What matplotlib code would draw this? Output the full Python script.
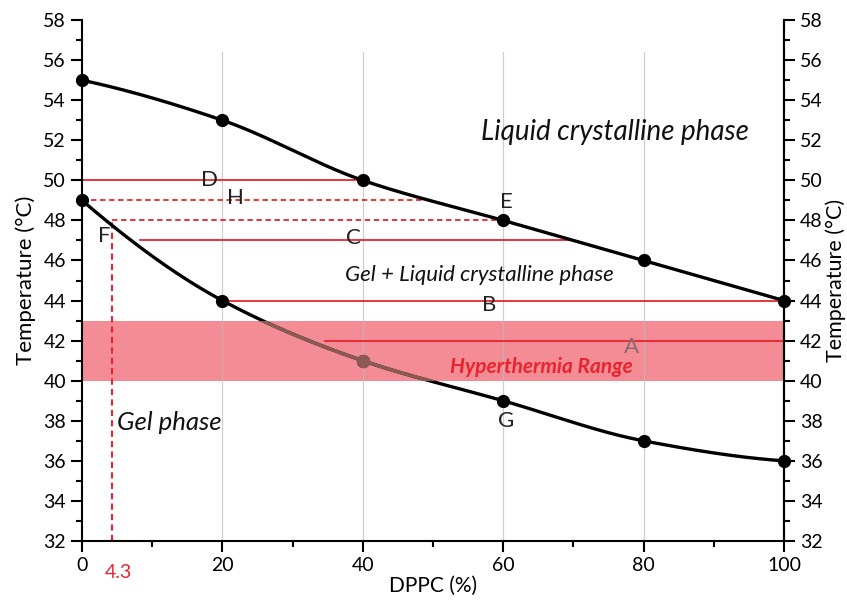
import numpy as np
import matplotlib
matplotlib.use("Agg")
import matplotlib.pyplot as plt
from matplotlib.ticker import MultipleLocator
from matplotlib.patches import Rectangle

plt.rcParams['font.family'] = ['Lato', 'DejaVu Sans']

# DPPC content (%) and transition temperatures (°C)
dppc = [0, 20, 40, 60, 80, 100]
liquidus = [55, 53, 50, 48, 46, 44]
solidus = [49, 44, 41, 39, 37, 36]

# tie lines: (temperature, x_start, x_end, dashed)
tie_temps = [50, 49, 48, 47, 44, 42]
tie_x0 = [0, 0, 4.3, 8.3, 20, 34.6]
tie_x1 = [40, 50, 60, 69.2, 100, 100]
tie_dashed = [False, True, True, False, False, False]

point_labels = ["D", "H", "E", "F", "C", "B", "G"]
label_x = [18.2, 21.8, 60.5, 3.2, 38.7, 58.0, 60.4]
label_y = [50.0, 49.1, 48.9, 47.2, 47.1, 43.8, 38.0]

hyper_low, hyper_high = 40, 43
f_point = 4.3


def pchip(x, y, xs):
    """Monotone piecewise cubic Hermite curve through the points."""
    x = np.asarray(x, float)
    y = np.asarray(y, float)
    h = np.diff(x)
    delta = np.diff(y) / h
    n = len(x)
    d = np.zeros(n)
    for i in range(1, n - 1):
        if delta[i - 1] * delta[i] > 0:
            w1 = 2 * h[i] + h[i - 1]
            w2 = h[i] + 2 * h[i - 1]
            d[i] = (w1 + w2) / (w1 / delta[i - 1] + w2 / delta[i])
    d[0] = ((2 * h[0] + h[1]) * delta[0] - h[0] * delta[1]) / (h[0] + h[1])
    d[-1] = ((2 * h[-1] + h[-2]) * delta[-1] - h[-1] * delta[-2]) / (h[-1] + h[-2])
    out = np.empty_like(xs)
    for k, xv in enumerate(xs):
        i = min(max(np.searchsorted(x, xv) - 1, 0), n - 2)
        t = (xv - x[i]) / h[i]
        h00 = 2 * t**3 - 3 * t**2 + 1
        h10 = t**3 - 2 * t**2 + t
        h01 = -2 * t**3 + 3 * t**2
        h11 = t**3 - t**2
        out[k] = h00 * y[i] + h10 * h[i] * d[i] + h01 * y[i + 1] + h11 * h[i] * d[i + 1]
    return out


fig = plt.figure(figsize=(8.47, 6.0), dpi=100)
ax = fig.add_axes([0.0968, 0.0983, 0.8288, 0.8683])

ax.set_xlim(0, 100)
ax.set_ylim(32, 58)

red = "#e8242f"
band_col = "#f48c96"
brown = "#8c5a52"

# hyperthermia band
ax.axhspan(hyper_low, hyper_high, color=band_col, lw=0, zorder=1)

# vertical guide lines
for gx in [20, 40, 60, 80]:
    ax.plot([gx, gx], [32, 56.4], color="#bbbbbb", lw=0.9, alpha=0.7, zorder=1.5)

for t, x0, x1, dsh in zip(tie_temps, tie_x0, tie_x1, tie_dashed):
    ax.plot([x0, x1], [t, t], color=red, lw=1.3,
            ls=(0, (3, 2)) if dsh else "-", zorder=2)
ax.plot([f_point, f_point], [32, 48], color=red, lw=1.5,
        ls=(0, (3, 2)), zorder=2)

xs = np.linspace(0, 100, 400)
ax.plot(xs, pchip(dppc, liquidus, xs), color="black", lw=2.4, zorder=3)
sol_curve = pchip(dppc, solidus, xs)
ax.plot(xs, sol_curve, color="black", lw=2.4, zorder=3)
ax.plot(dppc, liquidus, "o", color="black", ms=8.5, zorder=4, clip_on=False)
ax.plot(dppc, solidus, "o", color="black", ms=8.5, zorder=4, clip_on=False)

# part of the solidus seen through the band
clip_rect = Rectangle((0, hyper_low), 100, hyper_high - hyper_low,
                      transform=ax.transData, visible=False)
ax.add_patch(clip_rect)
seg, = ax.plot(xs, sol_curve, color=brown, lw=2.5, zorder=4.5)
seg.set_clip_path(clip_rect)
sol_x = np.array(dppc)
sol_y = np.array(solidus)
inband = (sol_y >= hyper_low) & (sol_y <= hyper_high)
ax.plot(sol_x[inband], sol_y[inband], "o", color=brown, ms=8.7, zorder=4.6)

for lab, lx, ly in zip(point_labels, label_x, label_y):
    ax.text(lx, ly, lab, fontsize=16, ha="center", va="center",
            color="#222222", zorder=3)
ax.text(78.3, 41.7, "A", fontsize=16, ha="center", va="center",
        color="#8a6a6e", zorder=4.7)

ax.text(65.4, 40.7, "Hyperthermia Range", color=red, fontsize=15,
        fontweight="bold", fontstyle="italic", ha="center", va="center", zorder=6)

ax.text(75.9, 52.4, "Liquid crystalline phase", fontsize=20, fontstyle="italic",
        ha="center", va="center", color="#111111")
ax.text(56.6, 45.3, "Gel + Liquid crystalline phase", fontsize=16,
        fontstyle="italic", ha="center", va="center", color="#111111")
ax.text(12.4, 37.9, "Gel phase", fontsize=18.5, fontstyle="italic",
        ha="center", va="center", color="#111111")

# axes styling
ax.spines["top"].set_visible(False)
for s in ["left", "right", "bottom"]:
    ax.spines[s].set_linewidth(1.5)

ax.xaxis.set_major_locator(MultipleLocator(20))
ax.xaxis.set_minor_locator(MultipleLocator(10))
ax.yaxis.set_major_locator(MultipleLocator(2))
ax.yaxis.set_minor_locator(MultipleLocator(1))
ax.tick_params(which="both", direction="out", width=1.5, labelsize=14)
ax.tick_params(which="major", length=8)
ax.tick_params(which="minor", length=4)

ax.set_xlabel("DPPC (%)", fontsize=15, labelpad=1)
ax.set_ylabel("Temperature (°C)", fontsize=16, labelpad=5)

# mirrored temperature scale on the right
ax2 = ax.twinx()
ax2.set_ylim(ax.get_ylim())
for s in ["top", "left", "bottom"]:
    ax2.spines[s].set_visible(False)
ax2.spines["right"].set_linewidth(1.5)
ax2.yaxis.set_major_locator(MultipleLocator(2))
ax2.yaxis.set_minor_locator(MultipleLocator(1))
ax2.tick_params(which="both", direction="out", width=1.5, labelsize=14)
ax2.tick_params(which="major", length=8)
ax2.tick_params(which="minor", length=4)
ax2.set_ylabel("Temperature (°C)", fontsize=15.5, labelpad=2)

ax.text(5.2, -0.045, "4.3", color=red, fontsize=14, ha="center",
        va="top", transform=ax.get_xaxis_transform())

fig.savefig("out.png", dpi=100)
